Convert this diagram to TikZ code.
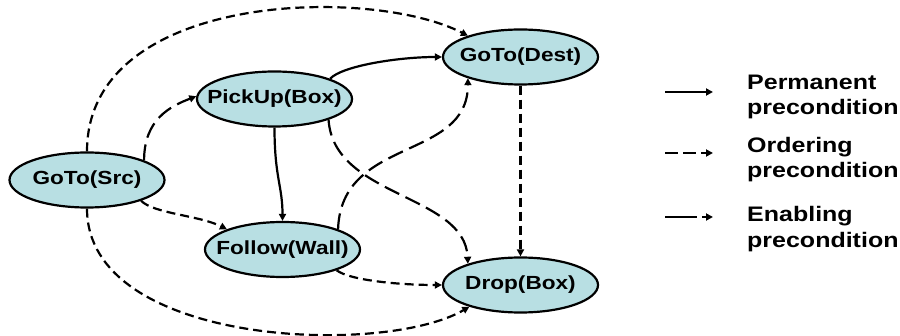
\documentclass[tikz,border=0pt]{standalone}
\usepackage{fontspec}
\newfontfamily\lab{Liberation Sans}[FakeStretch=1.19]
\usetikzlibrary{shapes.geometric,arrows.meta}
\definecolor{nodefill}{RGB}{184,223,227}
\begin{document}
\begin{tikzpicture}[x=1pt,y=-1pt,
  act/.style={ellipse, draw=black, line width=2.2pt, fill=nodefill,
    minimum width=155pt, minimum height=55pt, inner xsep=-25pt, inner ysep=0pt,
    font=\lab\bfseries\fontsize{19}{21}\selectfont},
  link/.style={line width=2.2pt, -{Triangle[length=7pt,width=7pt]}},
  perm/.style={link},
  ord/.style={link, dash pattern=on 9pt off 5pt},
  ena/.style={link, dash pattern=on 16pt off 7pt},
  legtext/.style={anchor=base west, inner sep=0pt,
    font=\lab\bfseries\fontsize{21}{25}\selectfont}]
\useasboundingbox (0,0) rectangle (900,336);

% activity nodes
\node[act] (src)  at (87,180)      {GoTo(Src)};
\node[act] (pick) at (274.5,99)    {PickUp(Box)};
\node[act] (dest) at (520.5,57)    {GoTo(Dest)};
\node[act] (foll) at (282.5,249.5) {Follow(Wall)};
\node[act] (drop) at (520.5,285)   {Drop(Box)};

% connectors
\draw[ord]  (src.north) .. controls +(0,-160) and +(-97,-50) .. (dest.158);
\draw[ena]  (src.19) .. controls +(0,-41) and +(-26,10) .. (pick.178);
\draw[ord]  (src.-21) .. controls +(13,13) and +(-28,-14) .. (foll.160);
\draw[ord]  (src.south) .. controls +(0,138) and +(-85,50) .. (drop.203);
\draw[perm] (pick.20) .. controls +(12,-13) and +(-43,0) .. (dest.west);
\draw[perm] (pick.south) .. controls +(0,50) and +(0,-35) .. (foll.north);
\draw[ena]  (pick.-21) .. controls +(5,78) and +(-3,-70) .. (drop.158);
\draw[ena]  (foll.20) .. controls +(3,-93) and +(0,83) .. (dest.202);
\draw[ord]  (foll.-21) .. controls +(13,10) and +(-43,0) .. (drop.west);
\draw[ord]  (dest.south) -- (drop.north);

% legend
\coordinate (l1a) at (665,92);  \coordinate (l1b) at (713,92);
\coordinate (l2a) at (665,153); \coordinate (l2b) at (713,153);
\coordinate (l3a) at (665,217); \coordinate (l3b) at (713,217);
\draw[perm] (l1a) -- (l1b);
\draw[ord, dash pattern=on 13pt off 5pt] (l2a) -- (l2b);
\draw[ena, dash pattern=on 32pt off 5pt] (l3a) -- (l3b);

\node[legtext] (t1a) at (747,90)  {Permanent};
\node[legtext] (t1b) at (747,115) {precondition};
\node[legtext] (t2a) at (747,153) {Ordering};
\node[legtext] (t2b) at (747,178) {precondition};
\node[legtext] (t3a) at (747,222) {Enabling};
\node[legtext] (t3b) at (747,248) {precondition};
\end{tikzpicture}
\end{document}
